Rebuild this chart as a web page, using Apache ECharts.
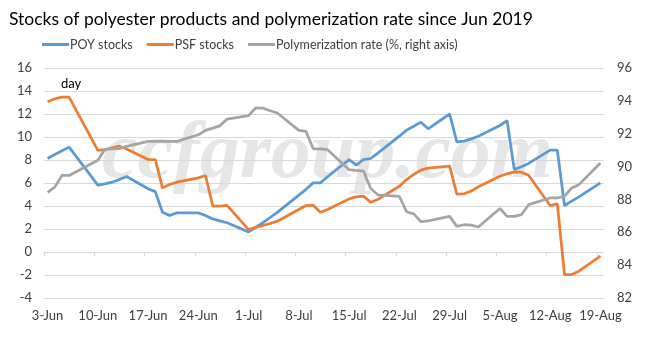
<!DOCTYPE html>
<html><head><meta charset="utf-8">
<script src="https://cdn.jsdelivr.net/npm/echarts@6/dist/echarts.min.js"></script>
<style>html,body{margin:0;padding:0;background:#fff}#c{width:658px;height:341px}</style>
</head><body><div id="c"></div>
<script>
// Trading days (2019)
const dates = ['06-03','06-04','06-05','06-06','06-10','06-11','06-12','06-13','06-14','06-17','06-18','06-19','06-20','06-21','06-24','06-25','06-26','06-27','06-28',
  '07-01','07-02','07-03','07-04','07-05','07-08','07-09','07-10','07-11','07-12','07-15','07-16','07-17','07-18','07-19','07-22','07-23','07-24','07-25','07-26',
  '07-29','07-30','07-31','08-01','08-02','08-05','08-06','08-07','08-08','08-09','08-12','08-13','08-14','08-15','08-16','08-19'];
const poyStocks = [8.13,8.48,8.8,9.12,5.81,5.93,6.07,6.3,6.57,5.5,5.25,3.46,3.17,3.4,3.4,3.17,2.88,2.71,2.54,
  1.75,2.15,2.55,3.0,3.45,4.95,5.45,6.01,6.01,6.54,8.04,7.55,8.04,8.13,8.6,10.07,10.6,10.94,11.29,10.71,
  12.0,9.58,9.64,9.84,10.07,11.0,11.43,7.17,7.41,7.7,8.86,8.86,4.04,4.42,4.8,6.01];
const psfStocks = [13.06,13.32,13.46,13.46,8.83,8.91,9.06,9.2,8.95,8.04,8.04,5.58,5.87,6.07,6.45,6.65,4.0,4.0,4.05,
  1.95,2.15,2.3,2.48,2.68,3.7,4.04,4.07,3.46,3.7,4.62,4.8,4.86,4.33,4.57,5.72,6.3,6.74,7.12,7.29,
  7.46,5.03,5.06,5.29,5.67,6.59,6.8,6.97,6.94,6.68,4.04,4.19,-1.96,-1.96,-1.67,-0.36];
const polyRate = [88.43,88.75,89.46,89.46,90.38,91.05,91.07,91.09,91.23,91.53,91.53,91.53,91.53,91.53,91.94,92.2,92.34,92.48,92.89,
  93.1,93.58,93.56,93.4,93.26,92.2,92.14,91.08,91.08,91.03,89.81,89.77,89.73,88.66,88.28,88.18,87.25,87.12,86.65,86.69,
  86.97,86.36,86.46,86.44,86.32,87.45,86.97,86.97,87.07,87.68,88.09,88.09,88.19,88.7,88.9,90.22];
const xTickLabels = ['3-Jun','10-Jun','17-Jun','24-Jun','1-Jul','8-Jul','15-Jul','22-Jul','29-Jul','5-Aug','12-Aug','19-Aug'];
const leftTicks = {min: -4, max: 16, interval: 2};
const rightTicks = {min: 82, max: 96, interval: 2};

const base = Date.UTC(2019, 5, 3);
const dayOf = s => { const [m, d] = s.split('-').map(Number); return (Date.UTC(2019, m - 1, d) - base) / 86400000; };
// Excel date axis: each day occupies a bin; points sit at bin centre
const xs = dates.map(s => dayOf(s) + 0.5);
const totalDays = dayOf('08-19') + 1;
const tickVals = xTickLabels.map((_, i) => i * 7);
const labelVals = xTickLabels.map((_, i) => i * 7 + 0.5);

const FONT = 'Lato';
const chart = echarts.init(document.getElementById('c'));
chart.setOption({
  animation: false,
  backgroundColor: '#fff',
  textStyle: {fontFamily: FONT},
  title: {text: 'Stocks of polyester products and polymerization rate since Jun 2019', left: 4, top: 5,
    textStyle: {fontSize: 17.5, fontWeight: 'normal', color: '#000', fontFamily: FONT}},
  legend: {top: 33, left: 37, icon: 'rect', itemWidth: 27, itemHeight: 3, itemGap: 14,
    textStyle: {fontSize: 12.5, color: '#404040', fontFamily: FONT, padding: [0, 0, 0, -4]},
    data: ['POY stocks', 'PSF stocks', 'Polymerization rate (%, right axis)']},
  graphic: [
    {type: 'text', left: 102, top: 116, z: 0, silent: true,
      style: {text: 'ccfgroup.com', font: 'italic bold 80px "Liberation Serif"', fill: '#e6e6e6'}},
    {type: 'text', left: 61, top: 77, style: {text: 'day', font: '13px ' + FONT, fill: '#000'}}
  ],
  grid: {left: 44, right: 54, top: 68, bottom: 43, containLabel: false},
  xAxis: [
    {type: 'value', min: 0, max: totalDays, position: 'bottom',
      axisLine: {show: false, onZero: false}, axisTick: {show: false}, splitLine: {show: false},
      axisLabel: {customValues: labelVals, margin: 11, fontSize: 13, color: '#404040', fontFamily: FONT,
        formatter: v => xTickLabels[Math.round((v - 0.5) / 7)]}},
    {type: 'value', min: 0, max: totalDays, position: 'bottom',
      axisLine: {show: true, onZero: true, onZeroAxisIndex: 0, lineStyle: {color: '#d9d9d9', width: 1}},
      axisTick: {show: true, customValues: tickVals, length: 4, lineStyle: {color: '#d9d9d9'}},
      axisLabel: {show: false}, splitLine: {show: false}}
  ],
  yAxis: [
    {type: 'value', ...leftTicks, position: 'left',
      axisLine: {show: false, onZero: false}, axisTick: {show: false},
      splitLine: {show: true, lineStyle: {color: '#d9d9d9', width: 1}},
      axisLabel: {margin: 12, fontSize: 13, color: '#404040', fontFamily: FONT}},
    {type: 'value', ...rightTicks, position: 'right',
      axisLine: {show: false, onZero: false}, axisTick: {show: false}, splitLine: {show: false},
      axisLabel: {margin: 13, fontSize: 13, color: '#404040', fontFamily: FONT}}
  ],
  series: [
    {name: 'POY stocks', type: 'line', xAxisIndex: 0, yAxisIndex: 0, symbol: 'none', color: '#5B9BD5',
      lineStyle: {width: 2.75}, data: xs.map((x, i) => [x, poyStocks[i]]), z: 3},
    {name: 'PSF stocks', type: 'line', xAxisIndex: 0, yAxisIndex: 0, symbol: 'none', color: '#ED7D31',
      lineStyle: {width: 2.75}, data: xs.map((x, i) => [x, psfStocks[i]]), z: 3},
    {name: 'Polymerization rate (%, right axis)', type: 'line', xAxisIndex: 0, yAxisIndex: 1, symbol: 'none', color: '#A5A5A5',
      lineStyle: {width: 2.75}, data: xs.map((x, i) => [x, polyRate[i]]), z: 3}
  ]
});
</script></body></html>
